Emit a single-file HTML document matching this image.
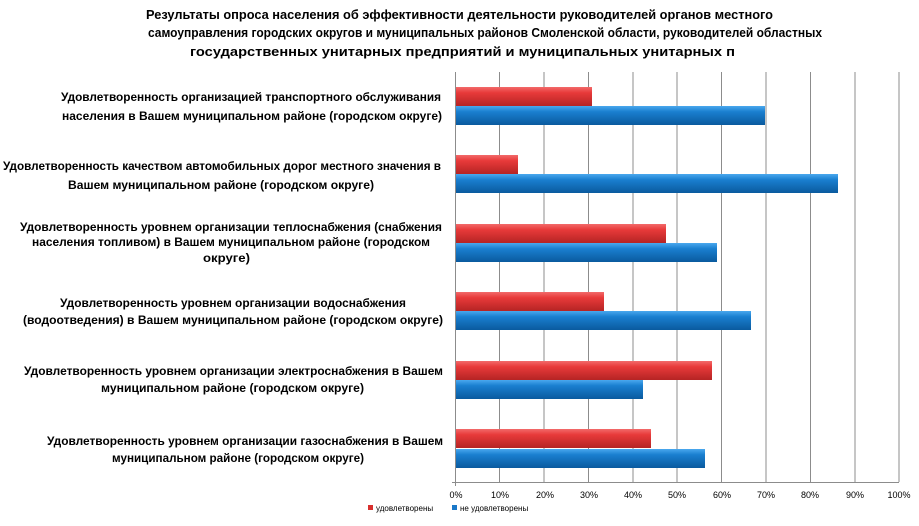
<!DOCTYPE html>
<html><head><meta charset="utf-8"><style>
html,body{margin:0;padding:0;background:#fff;}
svg{display:block;font-family:"Liberation Sans",sans-serif;}
.t{font-size:12.5px;font-weight:bold;fill:#000;}
.l{font-size:12px;font-weight:bold;fill:#000;}
.a{font-size:9px;fill:#000;}
</style></head><body>
<svg width="919" height="526" viewBox="0 0 919 526">
<defs>
<linearGradient id="r" x1="0" y1="0" x2="0" y2="1"><stop offset="0" stop-color="#f26a6a"/><stop offset="0.3" stop-color="#e83a3a"/><stop offset="1" stop-color="#b52424"/></linearGradient>
<linearGradient id="b" x1="0" y1="0" x2="0" y2="1"><stop offset="0" stop-color="#4aa8ee"/><stop offset="0.3" stop-color="#1a7fd0"/><stop offset="1" stop-color="#0a5a9e"/></linearGradient>
</defs>
<g class="t" text-anchor="start">
<text x="146" y="19" textLength="627" lengthAdjust="spacingAndGlyphs">Результаты опроса населения об эффективности деятельности руководителей органов местного</text>
<text x="148" y="37" textLength="674" lengthAdjust="spacingAndGlyphs">самоуправления городских округов и муниципальных районов Смоленской области, руководителей областных</text>
<text x="190" y="56" textLength="545" lengthAdjust="spacingAndGlyphs">государственных унитарных предприятий и муниципальных унитарных п</text>
</g>
<g stroke="#8c8c8c" stroke-width="1">
<line x1="499.5" y1="72" x2="499.5" y2="482"/><line x1="544" y1="72" x2="544" y2="482"/><line x1="588.5" y1="72" x2="588.5" y2="482"/><line x1="633" y1="72" x2="633" y2="482"/><line x1="677" y1="72" x2="677" y2="482"/><line x1="721.5" y1="72" x2="721.5" y2="482"/><line x1="766" y1="72" x2="766" y2="482"/><line x1="810.5" y1="72" x2="810.5" y2="482"/><line x1="855" y1="72" x2="855" y2="482"/><line x1="899" y1="72" x2="899" y2="482"/>
<line x1="455.5" y1="72" x2="455.5" y2="486"/><line x1="452" y1="482.5" x2="899" y2="482.5"/>
</g>
<g>
<rect x="456" y="87" width="136" height="19" fill="url(#r)"/><rect x="456" y="106" width="309" height="19" fill="url(#b)"/>
<rect x="456" y="155" width="62" height="19" fill="url(#r)"/><rect x="456" y="174" width="382" height="19" fill="url(#b)"/>
<rect x="456" y="224" width="210" height="19" fill="url(#r)"/><rect x="456" y="243" width="261" height="19" fill="url(#b)"/>
<rect x="456" y="292" width="148" height="19" fill="url(#r)"/><rect x="456" y="311" width="295" height="19" fill="url(#b)"/>
<rect x="456" y="361" width="256" height="19" fill="url(#r)"/><rect x="456" y="380" width="187" height="19" fill="url(#b)"/>
<rect x="456" y="429" width="195" height="19" fill="url(#r)"/><rect x="456" y="449" width="249" height="19" fill="url(#b)"/>
</g>
<g class="l">
<text x="61" y="101" textLength="380" lengthAdjust="spacingAndGlyphs">Удовлетворенность организацией транспортного обслуживания</text>
<text x="62" y="120" textLength="380" lengthAdjust="spacingAndGlyphs">населения в Вашем муниципальном районе (городском округе)</text>
<text x="3" y="170" textLength="438" lengthAdjust="spacingAndGlyphs">Удовлетворенность качеством автомобильных дорог местного значения в</text>
<text x="68" y="189" textLength="306" lengthAdjust="spacingAndGlyphs">Вашем муниципальном районе (городском округе)</text>
<text x="20" y="231" textLength="422" lengthAdjust="spacingAndGlyphs">Удовлетворенность уровнем организации теплоснабжения (снабжения</text>
<text x="32" y="246" textLength="398" lengthAdjust="spacingAndGlyphs">населения топливом) в Вашем муниципальном районе (городском</text>
<text x="203" y="262" textLength="47" lengthAdjust="spacingAndGlyphs">округе)</text>
<text x="60" y="307" textLength="346" lengthAdjust="spacingAndGlyphs">Удовлетворенность уровнем организации водоснабжения</text>
<text x="23" y="324" textLength="420" lengthAdjust="spacingAndGlyphs">(водоотведения) в Вашем муниципальном районе (городском округе)</text>
<text x="24" y="375" textLength="419" lengthAdjust="spacingAndGlyphs">Удовлетворенность уровнем организации электроснабжения в Вашем</text>
<text x="101" y="392" textLength="263" lengthAdjust="spacingAndGlyphs">муниципальном районе (городском округе)</text>
<text x="47" y="445" textLength="396" lengthAdjust="spacingAndGlyphs">Удовлетворенность уровнем организации газоснабжения в Вашем</text>
<text x="112" y="462" textLength="252" lengthAdjust="spacingAndGlyphs">муниципальном районе (городском округе)</text>
</g>
<g class="a" text-anchor="middle">
<text x="456" y="498">0%</text><text x="500" y="498">10%</text><text x="545" y="498">20%</text><text x="589" y="498">30%</text><text x="633" y="498">40%</text><text x="677" y="498">50%</text><text x="722" y="498">60%</text><text x="766" y="498">70%</text><text x="810" y="498">80%</text><text x="855" y="498">90%</text><text x="899" y="498">100%</text>
</g>
<rect x="368" y="505" width="5" height="5" fill="#d8302e"/>
<text class="a" x="376" y="511" style="font-size:8px">удовлетворены</text>
<rect x="452" y="505" width="5" height="5" fill="#1a78c8"/>
<text class="a" x="460" y="511" style="font-size:8px">не удовлетворены</text>
</svg>
</body></html>
